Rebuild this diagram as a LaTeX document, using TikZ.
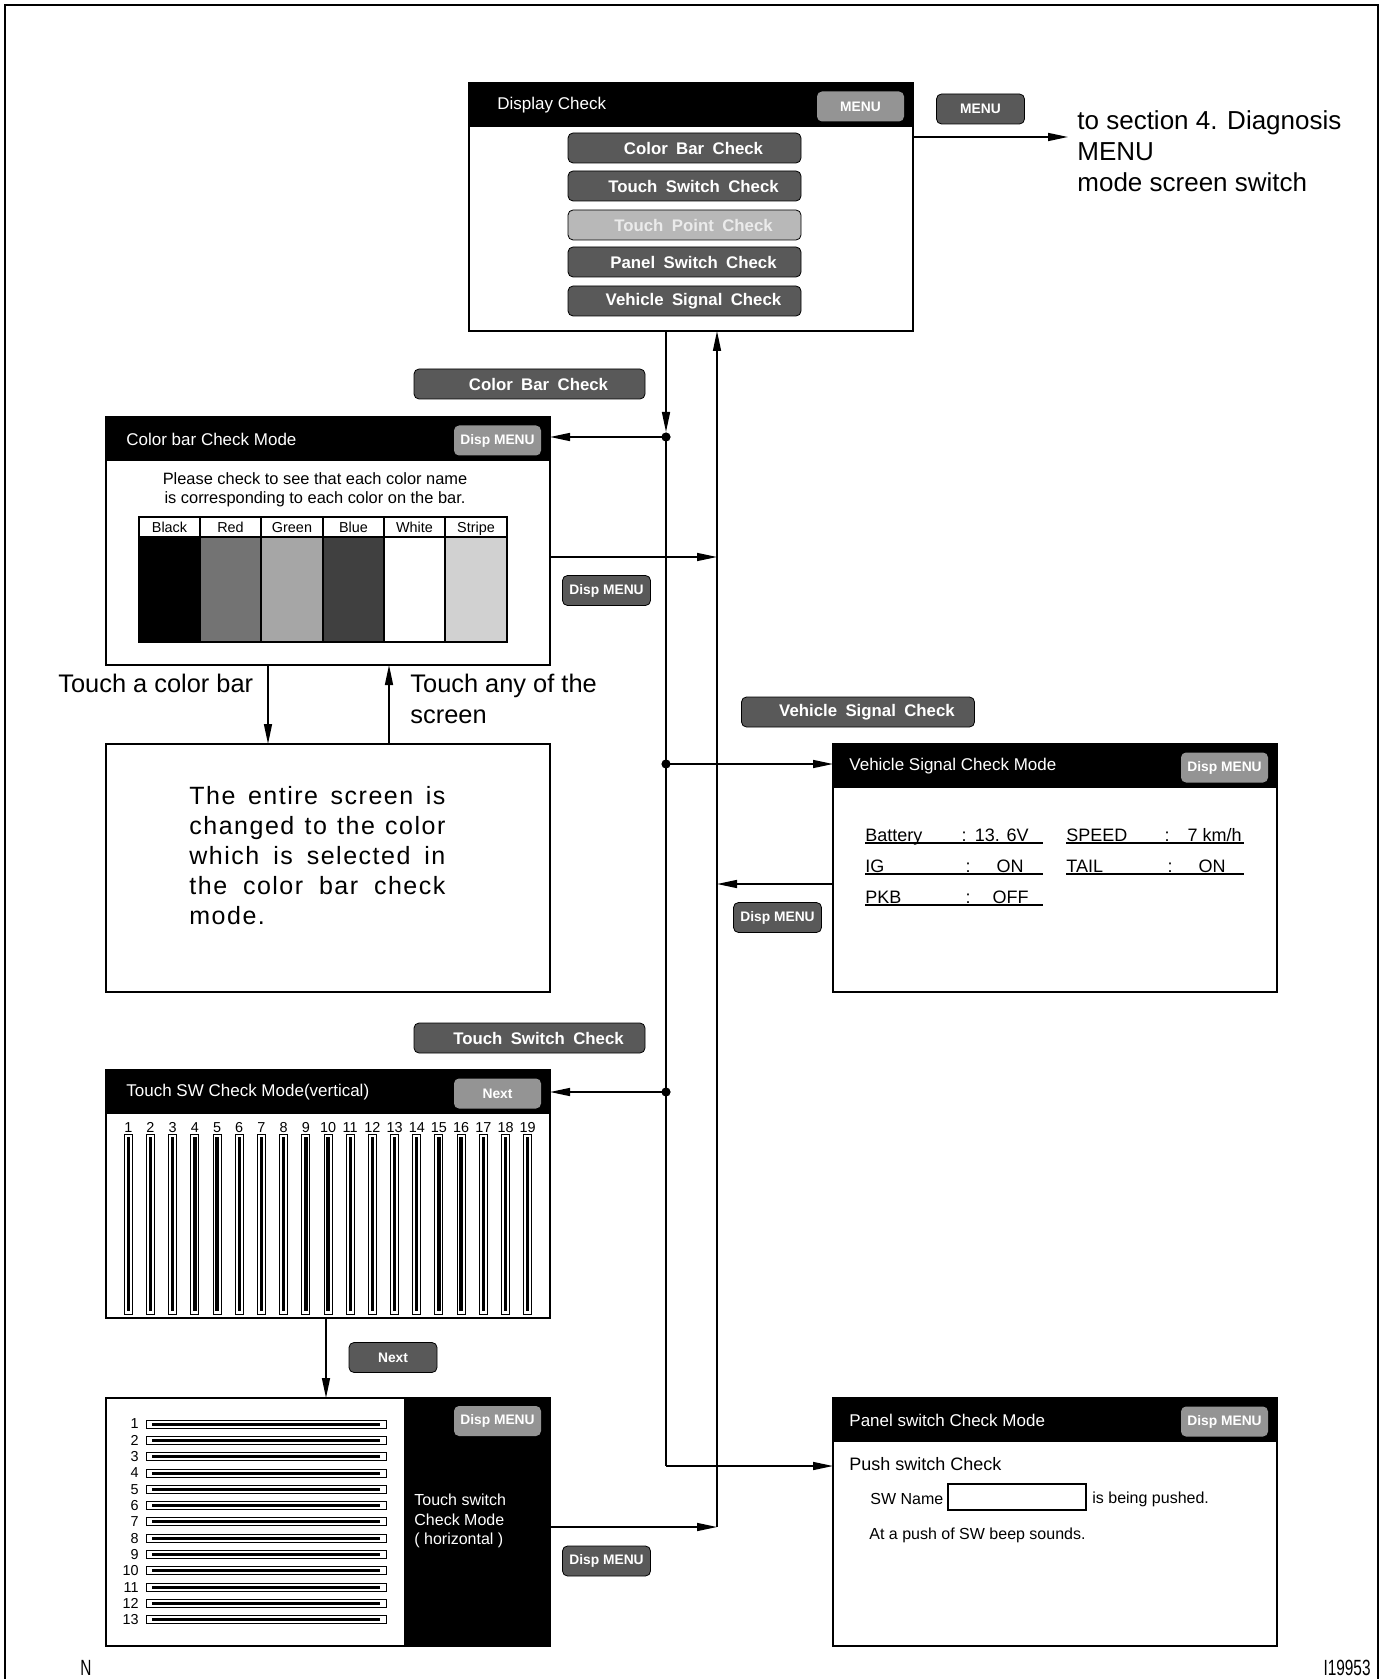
\documentclass[tikz,border=0pt]{standalone}
\usepackage{fontspec}
\setmainfont{Liberation Sans}
\newfontfamily\spacedfont[LetterSpace=6]{Liberation Sans}
\usepackage{graphicx}
\usetikzlibrary{arrows.meta,calc}
\newcommand{\lpad}{\hspace*{9pt}}
\newcommand{\btnfont}{\bfseries\fontsize{8.4}{9}\selectfont\spaceskip=0.5em\relax}
\begin{document}
\begin{tikzpicture}[x=0.5pt,y=-0.5pt,
  screen/.style={draw, line width=0.75pt, minimum width=222pt, minimum height=124pt, inner sep=0pt, outer sep=0pt, anchor=north west},
  btn/.style={draw=black, line width=0.4pt, rounded corners=2.5pt, fill=black!65, text=white, inner sep=0pt, minimum height=15pt, font=\btnfont},
  longbtn/.style={btn, minimum width=116.5pt},
  shortbtn/.style={btn, minimum width=44pt, font=\bfseries\fontsize{6.9}{8}\selectfont},
  tbtn/.style={shortbtn, fill=black!42, draw=none, minimum width=43.5pt},
  ttl/.style={anchor=west, text=white, inner sep=0pt, font=\fontsize{8.5}{10}\selectfont},
  ln/.style={line width=0.75pt},
  arr/.style={ln, -{Triangle[length=10pt,width=4pt]}},
  big/.style={font=\fontsize{13}{15.5}\selectfont, inner sep=0pt},
  small/.style={font=\fontsize{8}{9.5}\selectfont, inner sep=0pt},
  vsig/.style={font=\fontsize{9}{10}\selectfont, inner sep=0pt, anchor=base west},
  tiny/.style={font=\fontsize{7.2}{8}\selectfont, inner sep=0pt}
]
\useasboundingbox (0,0) rectangle (1383,1679);
% outer frame
\draw[line width=1.25pt] (5,1679) -- (5,5) -- (1378,5) -- (1378,1679);

% screens
\node[screen] (dc) at (469,83) {};
\node[screen] (cb) at (106,417) {};
\node[screen] (es) at (106,744) {};
\node[screen] (vs) at (833,744) {};
\node[screen] (tv) at (106,1070) {};
\node[screen] (th) at (106,1398) {};
\node[screen] (ps) at (833,1398) {};

\foreach \s in {dc,cb,vs,tv,ps}{
  \fill (\s.north west) rectangle ([yshift=-22pt]\s.north east);
}
\fill (404,1398) rectangle (th.south east);

% title texts
\node[ttl] (dct) at ([xshift=14pt,yshift=-11pt]dc.north west) {Display Check};
\node[ttl] (cbt) at ([xshift=10pt,yshift=-11pt]cb.north west) {Color bar Check Mode};
\node[ttl] (vst) at ([xshift=8pt,yshift=-11pt]vs.north west) {Vehicle Signal Check Mode};
\node[ttl] (tvt) at ([xshift=10pt,yshift=-11pt]tv.north west) {Touch SW Check Mode(vertical)};
\node[ttl] (pst) at ([xshift=8pt,yshift=-11pt]ps.north west) {Panel switch Check Mode};

% title buttons
\node[tbtn] (dcm) at ([xshift=-26.25pt,yshift=-11.75pt]dc.north east) {MENU};
\node[tbtn] (cbm) at ([xshift=-26.25pt,yshift=-11.75pt]cb.north east) {Disp MENU};
\node[tbtn] (vsm) at ([xshift=-26.25pt,yshift=-11.75pt]vs.north east) {Disp MENU};
\node[tbtn] (tvm) at ([xshift=-26.25pt,yshift=-11.75pt]tv.north east) {Next};
\node[tbtn] (psm) at ([xshift=-26.25pt,yshift=-11.75pt]ps.north east) {Disp MENU};
\node[tbtn] (thm) at ([xshift=-26.25pt,yshift=-11.5pt]th.north east) {Disp MENU};

% display check menu buttons
\node[longbtn] (b1) at (684.5,148) {\lpad Color Bar Check};
\node[longbtn] (b2) at (684.5,186) {\lpad Touch Switch Check};
\node[longbtn, fill=black!28, text=white!92!black] (b3) at (684.5,225) {\lpad Touch Point Check};
\node[longbtn] (b4) at (684.5,262) {\lpad Panel Switch Check};
\node[longbtn] (b5) at (684.5,301) {\lpad Vehicle Signal Check};

% outer buttons
\node[shortbtn] (om) at (980.5,109) {MENU};
\node[longbtn, minimum width=115.5pt] (ocb) at (529.5,384) {\lpad Color Bar Check};
\node[shortbtn] (od1) at (606.5,590.5) {Disp MENU};
\node[longbtn] (ovs) at (858,712) {\lpad Vehicle Signal Check};
\node[shortbtn] (od2) at (777.5,917.5) {Disp MENU};
\node[longbtn, minimum width=115.5pt] (ots) at (529.5,1038) {\lpad Touch Switch Check};
\node[shortbtn] (onx) at (393,1357.5) {Next};
\node[shortbtn] (od3) at (606.5,1561) {Disp MENU};

% right text
\node[big, anchor=west, align=left] (sect) at (1077,151) {to section 4. Diagnosis\\MENU\\mode screen switch};

% colour bar check content
\node[small, align=center, font=\fontsize{8.2}{9.6}\selectfont] (cbtxt) at (315,489.5) {Please check to see that each color name\\is corresponding to each color on the bar.};
\fill[black] (139,537) rectangle (200,642);
\fill[black!55] (200,537) rectangle (261,642);
\fill[black!35] (261,537) rectangle (323,642);
\fill[black!75] (323,537) rectangle (384,642);
\fill[black!18] (445,537) rectangle (507,642);
\draw[line width=0.6pt] (139,517) rectangle (507,642);
\draw[line width=0.6pt] (139,537) -- (507,537);
\foreach \xx in {200,261,323,384,445}{\draw[line width=0.6pt] (\xx,517) -- (\xx,642);}
\node[tiny, anchor=base] (cl1) at (169.5,532) {Black};
\node[tiny, anchor=base] (cl2) at (230.5,532) {Red};
\node[tiny, anchor=base] (cl3) at (292,532) {Green};
\node[tiny, anchor=base] (cl4) at (353.5,532) {Blue};
\node[tiny, anchor=base] (cl5) at (414.5,532) {White};
\node[tiny, anchor=base] (cl6) at (476,532) {Stripe};

% touch labels
\node[big, anchor=west, font=\fontsize{12.7}{15.5}\selectfont] (tcb) at (58,683) {Touch a color bar};
\node[big, anchor=west, align=left, font=\fontsize{12.7}{15.5}\selectfont] (tas) at (410,698.5) {Touch any of the\\screen};

% entire screen text
\node[anchor=north west, inner sep=0pt, text width=128pt, align=justify, font=\spacedfont\fontsize{12.5}{15}\selectfont] (estxt) at (189,786) {The entire screen is\linebreak changed to the color\linebreak which is selected in\linebreak the color bar check\linebreak mode.};

% vehicle signal content
\node[vsig] (v1) at (865,841) {Battery};
\node[vsig, anchor=base] (v1c) at (964,841) {:};
\node[vsig, anchor=base east] (v1v) at (1029,841) {13. 6V};
\node[vsig] (v2) at (865,872) {IG};
\node[vsig, anchor=base] (v2c) at (968,872) {:};
\node[vsig, anchor=base east] (v2v) at (1024,872) {ON};
\node[vsig] (v3) at (865,903) {PKB};
\node[vsig, anchor=base] (v3c) at (968,903) {:};
\node[vsig, anchor=base east] (v3v) at (1029,903) {OFF};
\node[vsig] (v4) at (1066,841) {SPEED};
\node[vsig, anchor=base] (v4c) at (1167,841) {:};
\node[vsig, anchor=base east] (v4v) at (1242,841) {7 km/h};
\node[vsig] (v5) at (1066,872) {TAIL};
\node[vsig, anchor=base] (v5c) at (1170,872) {:};
\node[vsig, anchor=base east] (v5v) at (1226,872) {ON};
\foreach \yy in {843,874,905}{\draw[line width=0.6pt] (865,\yy) -- (1043,\yy);}
\foreach \yy in {843,874}{\draw[line width=0.6pt] (1066,\yy) -- (1244,\yy);}

% vertical touch bars
\foreach \i in {1,...,19}{
  \pgfmathsetmacro\xx{128.3+22.19*(\i-1)}
  \draw[line width=0.5pt] (\xx-4,1134) rectangle (\xx+4,1314);
  \fill (\xx-1.7,1137) rectangle (\xx+1.7,1311);
  \node[tiny, anchor=base] (vn\i) at (\xx,1132) {\i};
}

% horizontal touch bars
\foreach \i in {1,...,13}{
  \pgfmathsetmacro\yy{1424+16.33*(\i-1)}
  \draw[line width=0.5pt] (146,\yy-4) rectangle (386,\yy+4);
  \fill (152,\yy-1.5) rectangle (380,\yy+1.5);
  \node[tiny, anchor=east] (hn\i) at (139,\yy) {\i};
}
\node[anchor=west, align=left, text=white, inner sep=0pt, font=\fontsize{8}{9.8}\selectfont] (thtxt) at (414,1521) {Touch switch\\Check Mode\\( horizontal )};

% panel switch content
\node[anchor=west, inner sep=0pt, font=\fontsize{9}{10}\selectfont] (pp1) at (849,1464) {Push switch Check};
\node[small, anchor=west] (pp2) at (870,1499) {SW Name};
\draw[line width=0.6pt] (948,1484) rectangle (1086,1510);
\node[small, anchor=west] (pp3) at (1092,1499) {is being pushed.};
\node[small, anchor=west] (pp4) at (869,1535) {At a push of SW beep sounds.};

% connectors
\coordinate (d1) at (666,437);
\coordinate (a1) at (666,432);
\coordinate (d2) at (666,764);
\coordinate (d3) at (666,1092);
\coordinate (c1) at (666,1466);
\coordinate (u1) at (717,1527);
\coordinate (r1) at (717,557);
\coordinate (r2) at (717,884);
\coordinate (m1) at (1068,137);
\coordinate (k1) at (268,0);
\coordinate (k2) at (389,0);
\coordinate (k3) at (326,0);

\draw[arr] (d1 |- dc.south) -- (a1);
\draw[ln] (d1) -- (c1);
\draw[arr] (c1) -- (c1 -| ps.west);
\draw[arr] (d1) -- (d1 -| cb.east);
\draw[arr] (d2) -- (d2 -| vs.west);
\draw[arr] (d3) -- (d3 -| tv.east);
\foreach \d in {d1,d2,d3}{\fill (\d) circle (2.3pt);}

\draw[arr] (u1) -- (u1 |- dc.south);
\draw[arr] (r1 -| cb.east) -- (r1);
\draw[arr] (r2 -| vs.west) -- (r2);
\draw[arr] (u1 -| th.east) -- (u1);

\draw[arr] (m1 -| dc.east) -- (m1);
\draw[arr] (k1 |- cb.south) -- (k1 |- es.north);
\draw[arr] (k2 |- es.north) -- (k2 |- cb.south);
\draw[arr] (k3 |- tv.south) -- (k3 |- th.north);

% footer
\node[anchor=west, inner sep=0pt, font=\fontsize{11}{12}\selectfont] (fn) at (80,1668) {\scalebox{0.7}[1]{N}};
\node[anchor=east, inner sep=0pt, font=\fontsize{11}{12}\selectfont] (fid) at (1371,1668) {\scalebox{0.7}[1]{I19953}};
\end{tikzpicture}
\end{document}
